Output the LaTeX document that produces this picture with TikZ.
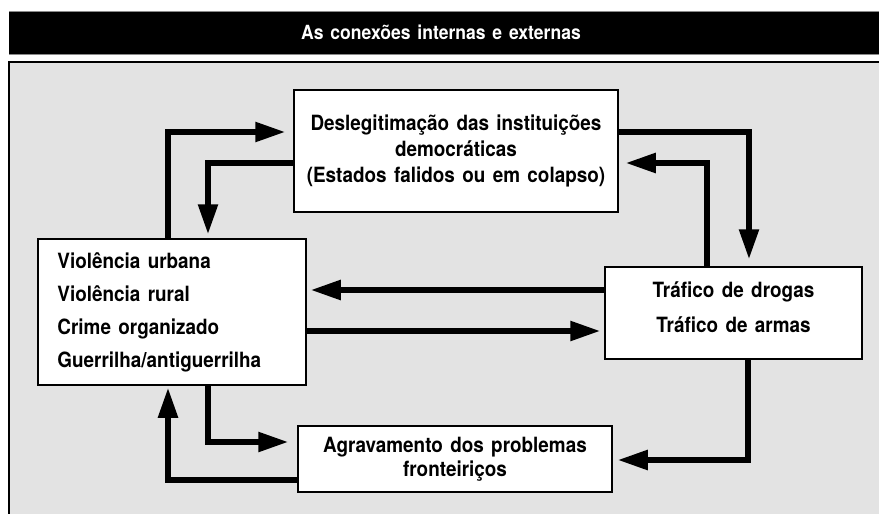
\documentclass[tikz,border=0pt]{standalone}
\usepackage{fontspec}
\setmainfont{TeX Gyre Heros}[FakeStretch=0.9,WordSpace=1.4]
\usetikzlibrary{arrows.meta,calc}
\definecolor{panel}{HTML}{E3E3E3}
\definecolor{barline}{HTML}{8A8A8A}
\tikzset{
  box/.style={draw=black, line width=1.5pt, fill=white, inner sep=0pt, align=center},
  arr/.style={line width=5.5pt, line join=miter, -{Triangle[length=30pt,width=19pt]}},
  boxfont/.style={font=\fontsize{21}{#1}\selectfont\bfseries},
}
\begin{document}
\begin{tikzpicture}[x=1pt,y=-1pt]
\useasboundingbox (0,0) rectangle (879,514);
% header bar
\fill[black] (9,11) rectangle (879,54);
\draw[barline, line width=1pt] (9,11) -- (879,11) (9,54) -- (879,54);
\node[text=white, font=\fontsize{19.5}{24}\selectfont\bfseries] (title) at (441,32.5) {As conexões internas e externas};
% panel
\fill[panel] (9,62) rectangle (879,514);
\draw[black, line width=1.3pt] (9,514) -- (9,62) -- (879,62);
% boxes
\node[box, minimum width=324pt, minimum height=122pt, boxfont=26] (dl) at (456,151)
  {Deslegitimação das instituições\\democráticas\\(Estados falidos ou em colapso)};
\node[box, minimum width=268pt, minimum height=146pt,
  label={[anchor=west, xshift=20pt, inner sep=0pt, align=left, boxfont=33]west:{Violência urbana\\Violência rural\\Crime organizado\\Guerrilha/antiguerrilha}}] (vi) at (172,312) {};
\node[box, minimum width=257pt, minimum height=92pt,
  label={[yshift=5.5pt, inner sep=0pt, align=center, boxfont=35]center:{Tráfico de drogas\\Tráfico de armas}}] (tr) at (733.5,313) {};
\node[box, minimum width=314pt, minimum height=66pt, boxfont=24] (ag) at (455,459)
  {Agravamento dos problemas\\fronteiriços};
% bend coordinates
\coordinate (k1) at (168,132);
\coordinate (k2) at (208,163);
\coordinate (k3) at (749,132);
\coordinate (k4) at (707,163);
\coordinate (k5) at (0,290);
\coordinate (k6) at (0,331);
\coordinate (k7) at (748,460);
\coordinate (k8) at (208,442);
\coordinate (k9) at (168,480);
% connectors
\draw[arr, shorten >=8pt] (vi.north -| k1) |- (dl.west |- k1);
\draw[arr, shorten >=4pt] (dl.west |- k2) -| (vi.north -| k2);
\draw[arr, shorten >=7pt] (dl.east |- k3) -| (tr.north -| k3);
\draw[arr, shorten >=7pt] (tr.north -| k4) |- (dl.east |- k4);
\draw[arr, shorten >=4pt] (tr.west |- k5) -- (vi.east |- k5);
\draw[arr, shorten >=4pt] (vi.east |- k6) -- (tr.west |- k6);
\draw[arr, shorten >=5pt] (tr.south -| k7) |- (ag.east |- k7);
\draw[arr, shorten >=9pt] (vi.south -| k8) |- (ag.west |- k8);
\draw[arr, shorten >=2pt] (ag.west |- k9) -| (vi.south -| k9);
\end{tikzpicture}
\end{document}
